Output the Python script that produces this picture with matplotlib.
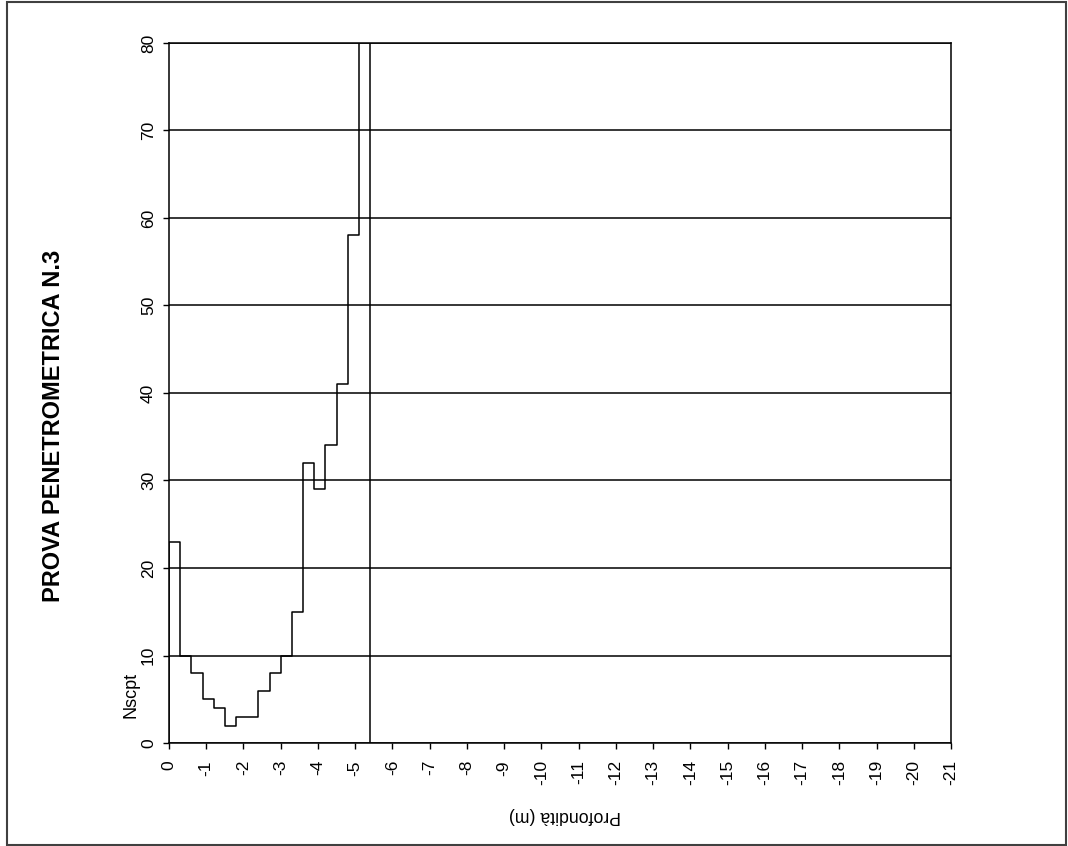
import numpy as np
import matplotlib
matplotlib.use("Agg")
import matplotlib.pyplot as plt
from matplotlib.patches import Rectangle

plt.rcParams['font.family'] = ['Liberation Sans', 'DejaVu Sans']
plt.rcParams['axes.unicode_minus'] = False

# Penetration test N.3 - blows every 0.3 m
depth_edges = [0.0, 0.3, 0.6, 0.9, 1.2, 1.5, 1.8, 2.1, 2.4, 2.7, 3.0,
               3.3, 3.6, 3.9, 4.2, 4.5, 4.8, 5.1, 5.4]
nscpt = [23, 10, 8, 5, 4, 2, 3, 3, 6, 8, 10, 15, 32, 29, 34, 41, 58, 100]
x_ticks = list(range(0, -22, -1))
y_ticks = [0, 10, 20, 30, 40, 50, 60, 70, 80]

W, H = 1068, 846
fig = plt.figure(figsize=(W / 100, H / 100), dpi=100)
ax = fig.add_axes([169 / W, 103 / H, 782 / W, 700 / H])

# step outline: up from zero at 0 m, back to zero at the last edge
edges = -np.array(depth_edges)
xs = np.concatenate([[edges[0]], np.repeat(edges, 2)[1:-1], [edges[-1]]])
ys = np.concatenate([[0], np.repeat(nscpt, 2), [0]])
ax.plot(xs, ys, color='black', lw=1.1, zorder=3)

ax.set_xlim(0, -21)
ax.set_ylim(0, 80)
ax.set_xticks(x_ticks)
ax.set_xticklabels([str(t) for t in x_ticks], rotation=90)
ax.set_yticks(y_ticks)
ax.set_yticklabels([str(t) for t in y_ticks], rotation=90, va='center')
ax.tick_params(axis='both', direction='out', length=4.3, width=1.0,
               labelsize=12.5, colors='black')
ax.tick_params(axis='x', pad=8)
ax.tick_params(axis='y', pad=5)
ax.grid(axis='y', color='black', lw=1.1)
ax.set_axisbelow(False)
for s in ax.spines.values():
    s.set_linewidth(1.1)
    s.set_color('black')

fig.text(131 / W, 1 - 694.5 / H, 'Nscpt', rotation=90, fontsize=13,
         ha='center', va='center')
fig.text(565 / W, 1 - 815 / H, 'Profondità (m)', rotation=180, fontsize=12.7,
         ha='center', va='center')
fig.text(53.5 / W, 1 - 426 / H, 'PROVA PENETROMETRICA N.3', rotation=90,
         fontsize=17, fontweight='bold', ha='center', va='center')

fig.patches.append(Rectangle((6.5 / W, 1.5 / H), 1059 / W, 842 / H,
                             transform=fig.transFigure, fill=False,
                             edgecolor='#404040', lw=1.5))

fig.savefig('out.png', dpi=100)
